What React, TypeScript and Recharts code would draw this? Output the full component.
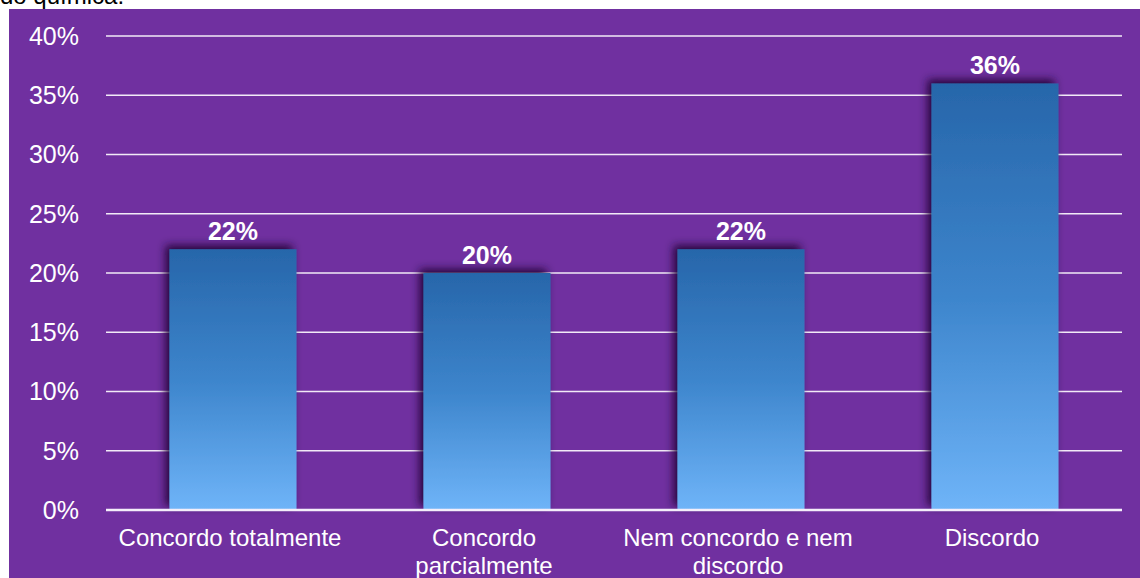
import React from "react";
import { BarChart, Bar, XAxis, YAxis, CartesianGrid, LabelList } from "recharts";

const categories = [
  "Concordo totalmente",
  "Concordo\nparcialmente",
  "Nem concordo e nem\ndiscordo",
  "Discordo",
];
const responses = [22, 20, 22, 36];
const yTicks = [0, 5, 10, 15, 20, 25, 30, 35, 40];

const chartData = categories.map((name, i) => ({ name, value: responses[i] }));

const FONT = "'Liberation Sans', Arial, Helvetica, sans-serif";

const CategoryTick = ({ x, y, payload }: any) => {
  const lines = String(payload.value).split("\n");
  const cx = x - 3;
  return (
    <text x={cx} y={y + 36} textAnchor="middle" fill="#ffffff" fontSize={24} fontFamily={FONT}>
      {lines.map((line, i) => (
        <tspan key={i} x={cx} dy={i === 0 ? 0 : 28}>
          {line}
        </tspan>
      ))}
    </text>
  );
};

const App = () => {
  return (
    <div
      style={{
        position: "absolute",
        left: 0,
        top: 0,
        width: 1140,
        height: 578,
        background: "#ffffff",
        overflow: "hidden",
      }}
    >
      <svg width={0} height={0} style={{ position: "absolute" }}>
        <defs>
          <linearGradient id="barFill" x1="0" y1="0" x2="0" y2="1">
            <stop offset="0" stopColor="#2766aa" />
            <stop offset="0.5" stopColor="#3d85cc" />
            <stop offset="1" stopColor="#6fb4f8" />
          </linearGradient>
          <filter id="barShadow" x="-20%" y="-20%" width="140%" height="140%">
            <feDropShadow dx={-4} dy={-4} stdDeviation={4} floodColor="#1c0630" floodOpacity={0.9} />
          </filter>
        </defs>
      </svg>
      <div
        style={{
          position: "absolute",
          left: 0,
          top: -18,
          fontFamily: FONT,
          fontSize: 24,
          lineHeight: "28px",
          color: "#000000",
        }}
      >
        do química.
      </div>
      <div style={{ position: "absolute", left: 9, top: 9, background: "#7030a0" }}>
        <BarChart
          width={1131}
          height={569}
          data={chartData}
          margin={{ top: 27, right: 18, left: 0, bottom: 0 }}
          barCategoryGap="25%"
        >
          <CartesianGrid vertical={false} stroke="#f2eaf7" strokeWidth={1.5} />
          <XAxis
            dataKey="name"
            height={68}
            tickLine={false}
            tickSize={0}
            tickMargin={0}
            axisLine={{ stroke: "#f4eefa", strokeWidth: 2.5 }}
            tick={<CategoryTick />}
            interval={0}
          />
          <YAxis
            width={97}
            domain={[0, 40]}
            ticks={yTicks}
            tickFormatter={(v: number) => `${v}%`}
            axisLine={false}
            tickLine={false}
            tickSize={0}
            tickMargin={27}
            tick={{ fill: "#ffffff", fontSize: 25, fontFamily: FONT }}
          />
          <Bar dataKey="value" fill="url(#barFill)" filter="url(#barShadow)" isAnimationActive={false}>
            <LabelList
              dataKey="value"
              position="top"
              offset={9}
              formatter={(v: any) => `${v}%`}
              fill="#ffffff"
              fontSize={25}
              fontWeight="bold"
              fontFamily={FONT}
            />
          </Bar>
        </BarChart>
      </div>
    </div>
  );
};

export default App;
